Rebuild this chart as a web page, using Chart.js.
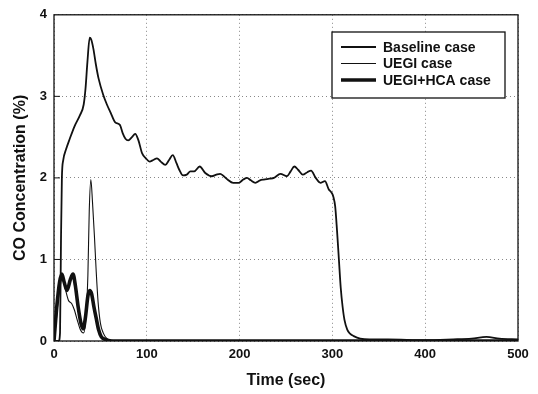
<!DOCTYPE html>
<html>
<head>
<meta charset="utf-8">
<script src="https://cdn.jsdelivr.net/npm/chart.js@4.4.1/dist/chart.umd.min.js"></script>
<style>
  html, body { margin: 0; padding: 0; background: #fff; }
  #wrap { width: 538px; height: 394px; }
</style>
</head>
<body>
<div id="wrap"><canvas id="co-chart"></canvas></div>
<script>
// CO concentration (%) vs time (sec)
const baselineTime = [0, 5, 6.5, 7.5, 8.5, 10, 13, 17, 22, 28, 32, 34, 36, 38.5, 40, 42.5, 45, 48, 53, 57,
  61, 66, 71, 74, 77, 80, 84, 87.5, 91, 95, 99, 103, 107, 111, 115, 120, 124, 128, 132, 135,
  139, 143, 147, 151, 157, 163, 170, 175, 179, 183, 187, 193, 199, 204, 208, 212, 217, 222, 226, 232,
  237, 244, 251, 255, 259, 263, 268, 273, 277, 282, 287, 292, 296, 299, 301, 303, 305, 307, 309, 311,
  313, 316, 319, 323, 330, 340, 360, 400, 430, 450, 466, 480, 500];
const baselineCO = [0, 0, 0.1, 1.2, 2.0, 2.22, 2.35, 2.48, 2.63, 2.77, 2.9, 3.1, 3.42, 3.72, 3.7, 3.58, 3.4, 3.22, 3.02, 2.9,
  2.8, 2.68, 2.65, 2.55, 2.48, 2.46, 2.5, 2.54, 2.46, 2.3, 2.24, 2.2, 2.22, 2.24, 2.2, 2.16, 2.22, 2.28, 2.18, 2.1,
  2.03, 2.04, 2.08, 2.08, 2.14, 2.06, 2.02, 2.04, 2.05, 2.02, 1.98, 1.94, 1.94, 1.98, 2.0, 1.97, 1.94, 1.97, 1.98, 1.99,
  2.0, 2.05, 2.02, 2.08, 2.14, 2.1, 2.04, 2.07, 2.09, 2.0, 1.94, 1.96, 1.86, 1.82, 1.77, 1.65, 1.35, 1.0, 0.65, 0.42,
  0.26, 0.14, 0.09, 0.06, 0.03, 0.02, 0.02, 0.01, 0.02, 0.03, 0.05, 0.03, 0.02];

const uegiTime = [0, 2, 5, 8, 9.5, 12, 15.5, 19, 22, 25, 28, 30, 32, 34.5, 36.5, 38, 39.7, 41.5, 43.5, 45.5,
  47.5, 50, 53, 57, 62, 70, 100, 200, 300, 400, 500];
const uegiCO = [0, 0.2, 0.55, 0.78, 0.8, 0.65, 0.5, 0.46, 0.38, 0.26, 0.15, 0.11, 0.1, 0.3, 0.8, 1.6, 1.98, 1.7, 1.3, 0.85,
  0.48, 0.22, 0.1, 0.03, 0.01, 0, 0, 0, 0, 0, 0];

const hcaTime = [0, 3, 6, 8.5, 11, 14, 17.5, 20.5, 23, 26, 29, 31.5, 34, 36.5, 38.5, 40.5, 43, 46, 48, 51,
  55, 62, 80, 500];
const hcaCO = [0, 0.42, 0.72, 0.82, 0.72, 0.62, 0.75, 0.82, 0.68, 0.42, 0.22, 0.15, 0.3, 0.55, 0.62, 0.58, 0.42, 0.25, 0.14, 0.05,
  0.02, 0, 0, 0];

const xTicks = [0, 100, 200, 300, 400, 500];
const yTicks = [0, 1, 2, 3, 4];

const toPoints = (xs, ys) => xs.map((x, i) => ({ x: x, y: ys[i] }));

const FONT = "'Liberation Sans', Arial, Helvetica, sans-serif";
const INK = '#111';

// box around the plot, inward ticks and the boxed legend
const framePlugin = {
  id: 'frame',
  afterDraw(chart) {
    const { ctx, chartArea: a, scales } = chart;
    ctx.save();
    ctx.strokeStyle = INK;
    ctx.lineWidth = 1.3;
    ctx.strokeRect(a.left, a.top, a.right - a.left, a.bottom - a.top);
    ctx.lineWidth = 1;
    yTicks.slice(1, -1).forEach(v => {
      const y = scales.y.getPixelForValue(v);
      ctx.beginPath();
      ctx.moveTo(a.left, y);
      ctx.lineTo(a.left + 6, y);
      ctx.stroke();
    });

    // legend
    const bx = 332, by = 32, bw = 173, bh = 66;
    ctx.fillStyle = '#fff';
    ctx.fillRect(bx, by, bw, bh);
    ctx.lineWidth = 1.3;
    ctx.strokeRect(bx, by, bw, bh);
    ctx.font = 'bold 14px ' + FONT;
    ctx.textBaseline = 'middle';
    chart.data.datasets.forEach((ds, i) => {
      const y = by + 15 + i * 16.5;
      ctx.strokeStyle = ds.borderColor;
      ctx.lineWidth = ds.borderWidth;
      ctx.beginPath();
      ctx.moveTo(bx + 9, y);
      ctx.lineTo(bx + 44, y);
      ctx.stroke();
      ctx.fillStyle = INK;
      ctx.fillText(ds.label, bx + 51, y + 1);
    });
    ctx.restore();
  }
};

new Chart(document.getElementById('co-chart'), {
  type: 'line',
  data: {
    datasets: [
      {
        label: 'Baseline case',
        data: toPoints(baselineTime, baselineCO),
        borderColor: INK,
        borderWidth: 1.8
      },
      {
        label: 'UEGI case',
        data: toPoints(uegiTime, uegiCO),
        borderColor: INK,
        borderWidth: 1.1
      },
      {
        label: 'UEGI+HCA case',
        data: toPoints(hcaTime, hcaCO),
        borderColor: INK,
        borderWidth: 3.6
      }
    ]
  },
  options: {
    responsive: true,
    maintainAspectRatio: false,
    animation: false,
    layout: { padding: { top: 12, right: 20, left: 0, bottom: 0 } },
    elements: {
      point: { radius: 0 },
      line: { cubicInterpolationMode: 'monotone', fill: false }
    },
    plugins: {
      legend: { display: false },
      tooltip: { enabled: false }
    },
    scales: {
      x: {
        type: 'linear',
        min: 0,
        max: 500,
        afterBuildTicks: s => { s.ticks = xTicks.map(v => ({ value: v })); },
        afterFit: s => { s.height = 53; },
        grid: { color: '#888', lineWidth: 1, drawTicks: false },
        border: { display: false, dash: [1, 3] },
        ticks: { padding: 6, color: INK, font: { family: FONT, size: 13, weight: 'bold' }, maxRotation: 0 },
        title: {
          display: true,
          text: 'Time (sec)',
          color: INK,
          font: { family: FONT, size: 16, weight: 'bold' },
          padding: { top: 10, bottom: 4 }
        }
      },
      y: {
        min: 0,
        max: 4,
        afterBuildTicks: s => { s.ticks = yTicks.map(v => ({ value: v })); },
        afterFit: s => { s.width = 54; },
        grid: { color: '#888', lineWidth: 1, drawTicks: false },
        border: { display: false, dash: [1, 3] },
        ticks: { padding: 7, color: INK, font: { family: FONT, size: 13, weight: 'bold' } },
        title: {
          display: true,
          text: 'CO Concentration (%)',
          color: INK,
          font: { family: FONT, size: 16, weight: 'bold' },
          padding: { top: 11, bottom: 8 }
        }
      }
    }
  },
  plugins: [framePlugin]
});
</script>
</body>
</html>
